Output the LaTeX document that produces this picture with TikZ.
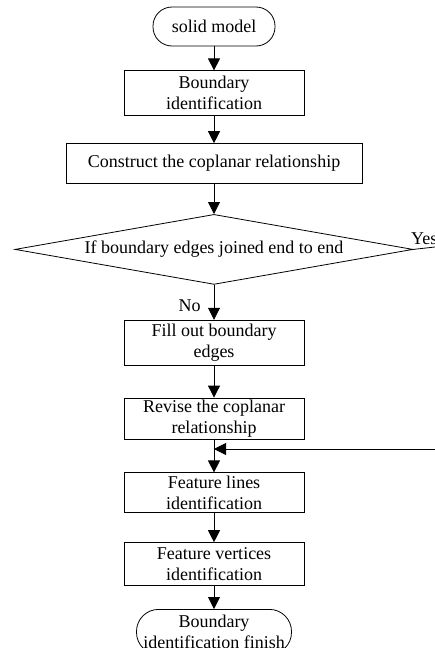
\documentclass[tikz,border=0pt]{standalone}
\usepackage{fontspec}
\setmainfont{Liberation Serif}
\usetikzlibrary{arrows.meta,positioning,shapes.geometric}

\begin{document}
\begin{tikzpicture}[x=1pt,y=-1pt,>={Triangle[length=12pt,width=12pt]},
                line width=0.8pt,font=\fontsize{18}{21}\selectfont,
                process/.style={rectangle,draw,minimum width=180pt,inner sep=0pt,align=center},
                terminal/.style={rectangle,draw,inner sep=0pt,align=center},
                decision/.style={diamond,draw,aspect=5.7,minimum width=398pt,
                                 minimum height=70pt,inner sep=0pt}]

  \useasboundingbox (0,0) rectangle (435,648);

  \node[terminal,minimum width=122pt,minimum height=39pt,rounded corners=19pt] (start) at (214,26.5) {solid model};
  \node[process,minimum height=45pt] (bound) [below=24pt of start] {Boundary\\identification};
  \node[process,minimum width=296pt,minimum height=40pt] (coplanar) [below=27pt of bound] {Construct the coplanar relationship};
  \node[decision] (joined) [below=30pt of coplanar] {If boundary edges joined end to end};
  \node[process,minimum height=45pt] (fill) [below=35pt of joined] {Fill out boundary\\edges};
  \node[process,minimum height=41pt] (revise) [below=32pt of fill] {Revise the coplanar\\relationship};
  \node[process,minimum height=40pt] (lines) [below=33pt of revise] {Feature lines\\identification};
  \node[process,minimum height=43pt] (vertices) [below=29pt of lines] {Feature vertices\\identification};
  \node[terminal,minimum width=155pt,minimum height=45pt,rounded corners=22pt] (finish) [below=23pt of vertices] {Boundary\\identification finish};

  \coordinate (yesend) at (435,247);
  \coordinate (loopin) at (435,449);
  \coordinate (merge) at (214,449);

  \path[->]
    (start) edge (bound)
    (bound) edge (coplanar)
    (coplanar) edge (joined)
    (joined) edge node[left=13pt,pos=0.6,inner sep=0pt] {No} (fill)
    (fill) edge (revise)
    (revise) edge (lines)
    (lines) edge (vertices)
    (vertices) edge (finish);

  \draw (joined.east) -- node[above,inner sep=3pt] {Yes} (yesend);
  \draw[->] (loopin) -- (merge);
\end{tikzpicture}
\end{document}
